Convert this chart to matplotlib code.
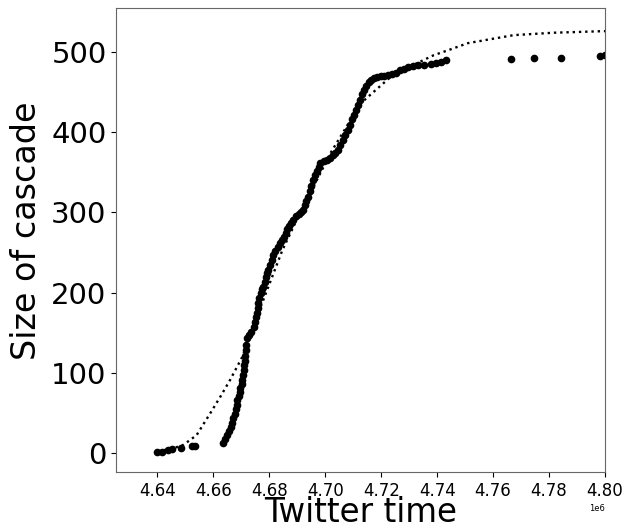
import matplotlib
matplotlib.use("Agg")
import matplotlib.pyplot as plt

# observed cascade: (twitter time, cumulative size)
early_time = [4.6400, 4.6418, 4.6439, 4.6454, 4.6486, 4.6525, 4.6536]
early_size = [1, 1, 4, 5, 6, 8, 9]

main_time = [
    4.6636, 4.6643, 4.6650, 4.6656, 4.6662, 4.6668, 4.6672, 4.6676, 4.6680, 4.6683,
    4.6686, 4.6690, 4.6694, 4.6697, 4.6701, 4.6704, 4.6706, 4.6708, 4.6710, 4.6712,
    4.6714, 4.6715, 4.6718, 4.6722, 4.6728, 4.6735, 4.6744, 4.6748, 4.6752, 4.6756,
    4.6759, 4.6761, 4.6765, 4.6770, 4.6775, 4.6779, 4.6783, 4.6788, 4.6793, 4.6797,
    4.6802, 4.6808, 4.6815, 4.6822, 4.6830, 4.6838, 4.6845, 4.6851, 4.6858, 4.6865,
    4.6871, 4.6876, 4.6885, 4.6895, 4.6905, 4.6912, 4.6919, 4.6926, 4.6933, 4.6940,
    4.6945, 4.6950, 4.6955, 4.6962, 4.6969, 4.6976, 4.6983, 4.6995, 4.7008, 4.7017,
    4.7026, 4.7035, 4.7044, 4.7053, 4.7062, 4.7071, 4.7080, 4.7087, 4.7095, 4.7102,
    4.7109, 4.7116, 4.7123, 4.7130, 4.7137, 4.7146, 4.7155, 4.7164, 4.7173, 4.7185,
    4.7198, 4.7210, 4.7223, 4.7238, 4.7252, 4.7266, 4.7280, 4.7295, 4.7313, 4.7331,
    4.7354, 4.7377, 4.7395, 4.7413, 4.7431,
]
main_size = [
    12, 17, 22, 27, 32, 37, 43, 49, 55, 60,
    66, 71, 76, 81, 86, 91, 97, 103, 109, 115,
    121, 128, 134, 143, 147, 151, 157, 163, 169, 175,
    181, 187, 193, 199, 204, 207, 213, 219, 224, 228,
    234, 240, 247, 252, 257, 262, 266, 269, 274, 279,
    283, 287, 291, 295, 298, 300, 303, 309, 314, 319,
    326, 333, 340, 346, 352, 357, 362, 364, 365, 368,
    371, 374, 378, 384, 390, 396, 403, 409, 416, 422,
    428, 434, 440, 447, 453, 458, 462, 465, 468, 469,
    470, 470, 471, 472, 474, 477, 479, 481, 483, 484,
    484, 485, 486, 488, 490,
]

late_time = [4.7663, 4.7746, 4.7842, 4.7982, 4.8000]
late_size = [491, 492, 493, 495, 496]

# fitted curve (dotted)
fit_time = [4.6400, 4.6450, 4.6493, 4.6540, 4.6590, 4.6625, 4.6660, 4.6704, 4.6769,
            4.6847, 4.6900, 4.7019, 4.7127, 4.7234, 4.7316, 4.7388, 4.7438, 4.7510,
            4.7674, 4.7817, 4.8000]
fit_size = [2, 5, 10, 22, 50, 70, 91, 120, 182,
            253, 292, 374, 436, 469, 484, 496, 502, 511,
            521, 524, 526]

times = [t * 1e6 for t in early_time + main_time + late_time]
sizes = early_size + main_size + late_size

fig = plt.figure(figsize=(6.25, 5.24), dpi=100)
ax = fig.add_axes([0.186, 0.099, 0.782, 0.886])

ax.plot(times, sizes, "o", color="black", markersize=4.5)
ax.plot([t * 1e6 for t in fit_time], fit_size, ":", color="black", linewidth=1.7)

ax.set_xlim(4.6253e6, 4.80e6)
ax.set_ylim(-24, 555)
ax.set_xticks([4.64e6 + 0.02e6 * i for i in range(9)])
ax.set_yticks([0, 100, 200, 300, 400, 500])
ax.tick_params(axis="x", labelsize=12)
ax.tick_params(axis="y", labelsize=21)
ax.xaxis.get_offset_text().set_fontsize(6)

ax.set_xlabel("Twitter time", fontsize=23.5, labelpad=-3)
ax.set_ylabel("Size of cascade", fontsize=24)
ax.yaxis.set_label_coords(-0.15, 0.52)
for s in ax.spines.values():
    s.set_color("#666666")

plt.savefig("out.png", dpi=100)
